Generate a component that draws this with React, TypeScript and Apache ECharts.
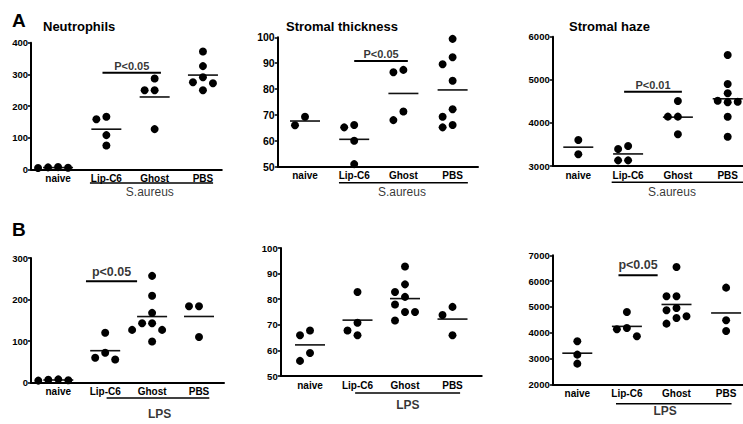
import React, { useEffect, useRef } from "react";
import * as echarts from "echarts";

const categories = ["naive", "Lip-C6", "Ghost", "PBS"];

// A: S. aureus
const neutrophilsSA = [
  [5, 7, 4, 6],
  [158, 166, 108, 75],
  [287, 250, 250, 127],
  [372, 326, 291, 275, 272, 250],
];
const thicknessSA = [
  [66, 69.3],
  [65.2, 66.1, 60, 51],
  [87.4, 86.5, 68, 71.3],
  [99.4, 92.3, 89.6, 83.2, 72.2, 69.3, 65.2, 66.1],
];
const hazeSA = [
  [3603, 3271],
  [3464, 3394, 3131, 3131],
  [4508, 4145, 4145, 3735],
  [5575, 4903, 4687, 4515, 4478, 4492, 4144, 3680],
];
// B: LPS
const neutrophilsLPS = [
  [6, 8, 7, 5],
  [120, 72, 56, 60],
  [257, 209, 168, 143, 143, 127, 127, 99],
  [184, 184, 110],
];
const thicknessLPS = [
  [67.8, 65.9, 59, 55.9],
  [82.8, 70.8, 67.8, 65.9],
  [92.8, 85.8, 82.8, 80.9, 77.9, 75, 75, 71.7],
  [77, 73.8, 65.9],
];
const hazeLPS = [
  [3667, 3150, 2801],
  [4804, 4183, 4132, 3860],
  [6548, 5411, 5411, 4959, 4868, 4636, 4571, 4351],
  [5747, 4480, 4067],
];

const neutrophilsSATicks = [0, 100, 200, 300, 400];
const thicknessSATicks = [50, 60, 70, 80, 90, 100];
const hazeSATicks = [3000, 4000, 5000, 6000];
const neutrophilsLPSTicks = [0, 100, 200, 300];
const thicknessLPSTicks = [50, 60, 70, 80, 90, 100];
const hazeLPSTicks = [2000, 3000, 4000, 5000, 6000, 7000];

const panelTitles = ["Neutrophils", "Stromal thickness", "Stromal haze", "", "", ""];
const groupLabels = ["S.aureus", "S.aureus", "S.aureus", "LPS", "LPS", "LPS"];
const sigLabels = ["P<0.05", "P<0.05", "P<0.01", "p<0.05", null, "p<0.05"];
const sigLevels = [305, 90.8, 4724, 244, null, 6225];

const panelValues = [neutrophilsSA, thicknessSA, hazeSA, neutrophilsLPS, thicknessLPS, hazeLPS];
const panelTicks = [
  neutrophilsSATicks,
  thicknessSATicks,
  hazeSATicks,
  neutrophilsLPSTicks,
  thicknessLPSTicks,
  hazeLPSTicks,
];

// layout only (pixels / category-unit spans)
const layouts = [
  { left: 31, top: 42.7, height: 126.6, xMin: -0.56, xMax: 3.39, step: 48.3, tickFont: 9.5, sigFont: 11, sigGap: 0.5, sigSpan: [0.92, 2.13], under: [0.66, 3.21, 13.7], groupAt: [1.9, 22.7], groupBold: false, titleAt: [43, 26] },
  { left: 277.7, top: 37.3, height: 129.4, xMin: -0.555, xMax: 3.516, step: 49.2, tickFont: 10.5, sigFont: 11, sigGap: 1.5, sigSpan: [1.0, 2.09], under: [0.69, 3.31, 16], groupAt: [1.97, 25], groupBold: false, titleAt: [286, 26.7] },
  { left: 552.7, top: 36.7, height: 129.3, xMin: -0.514, xMax: 3.5, step: 49.8, tickFont: 9.5, sigFont: 11, sigGap: 0.3, sigSpan: [0.92, 2.08], under: [0.67, 3.6, 16.3], groupAt: [1.88, 25.7], groupBold: false, titleAt: [569, 26.7] },
  { left: 31, top: 258, height: 124.7, xMin: -0.582, xMax: 3.533, step: 46.9, tickFont: 9.5, sigFont: 12.5, sigGap: 2, sigSpan: [0.59, 1.68], under: [1.03, 3.22, 15.3], groupAt: [2.16, 31], groupBold: true, titleAt: [0, 0] },
  { left: 280.7, top: 248, height: 128, xMin: -0.617, xMax: 3.615, step: 47.5, tickFont: 9.5, sigFont: 12.5, sigGap: 2, sigSpan: [0, 0], under: [0.95, 3.16, 17], groupAt: [2.06, 28.7], groupBold: true, titleAt: [0, 0] },
  { left: 552.7, top: 255.3, height: 129, xMin: -0.496, xMax: 3.5, step: 49.6, tickFont: 9.5, sigFont: 12.5, sigGap: 3, sigSpan: [0.83, 1.62], under: [0.78, 3.11, 19.4], groupAt: [1.77, 27], groupBold: true, titleAt: [0, 0] },
];

const INK = "#000";
const FONT = "Liberation Sans, Arial, Helvetica, sans-serif";
const DOT = 8;
const SWARM_STEP = 10;
const SWARM_THR = 8.8;
const MEAN_HALF = 15;

function swarm(vals: number[], yPx: number): number[] {
  const order = vals.map((_, i) => i).sort((a, b) => vals[b] - vals[a]);
  const placed: { dx: number; y: number }[] = [];
  const out: number[] = new Array(vals.length).fill(0);
  const ks = [0, -1, 1, -2, 2, -3, 3, -4, 4];
  for (const i of order) {
    const y = vals[i] * yPx;
    for (const k of ks) {
      const dx = k * SWARM_STEP;
      if (placed.every((p) => Math.hypot(p.dx - dx, p.y - y) >= SWARM_THR)) {
        placed.push({ dx, y });
        out[i] = dx;
        break;
      }
    }
  }
  return out;
}

function mean(a: number[]) {
  return a.reduce((s, v) => s + v, 0) / a.length;
}

function buildOption() {
  const grid: any[] = [];
  const xAxis: any[] = [];
  const yAxis: any[] = [];
  const series: any[] = [];

  layouts.forEach((l, i) => {
    const ticks = panelTicks[i];
    const yMin = ticks[0];
    const yMax = ticks[ticks.length - 1];
    const yPx = l.height / (yMax - yMin);
    grid.push({
      left: l.left,
      top: l.top,
      width: (l.xMax - l.xMin) * l.step,
      height: l.height,
      containLabel: false,
      outerBoundsMode: "none",
    });
    xAxis.push({
      gridIndex: i,
      type: "value",
      min: l.xMin,
      max: l.xMax,
      axisLine: { show: true, onZero: false, lineStyle: { color: INK, width: 2 } },
      axisTick: { show: false },
      splitLine: { show: false },
      axisLabel: {
        customValues: [0, 1, 2, 3],
        formatter: (v: number) => categories[Math.round(v)] ?? "",
        fontSize: 10,
        fontWeight: "bold",
        color: INK,
        margin: 4,
        fontFamily: FONT,
      },
    });
    yAxis.push({
      gridIndex: i,
      type: "value",
      min: yMin,
      max: yMax,
      interval: ticks[1] - ticks[0],
      axisLine: { show: true, onZero: false, lineStyle: { color: INK, width: 2 } },
      axisTick: { show: true, length: 3, lineStyle: { color: INK, width: 1.5 } },
      splitLine: { show: false },
      axisLabel: {
        margin: 3,
        fontSize: l.tickFont,
        fontWeight: "bold",
        color: INK,
        fontFamily: FONT,
        formatter: (v: number) => String(v),
      },
    });

    const groups = panelValues[i];
    const dots: number[][] = [];
    groups.forEach((vals, g) => {
      const offs = swarm(vals, yPx);
      vals.forEach((v, j) => dots.push([g + offs[j] / l.step, v]));
    });
    series.push({
      type: "scatter",
      xAxisIndex: i,
      yAxisIndex: i,
      symbol: "circle",
      symbolSize: DOT,
      itemStyle: { color: INK, opacity: 1 },
      data: dots,
      silent: true,
      z: 3,
    });
    series.push({
      type: "custom",
      xAxisIndex: i,
      yAxisIndex: i,
      silent: true,
      data: groups.map((vals, g) => [g, mean(vals), MEAN_HALF / l.step]),
      renderItem: (_p: any, api: any) => {
        const c = api.value(0);
        const m = api.value(1);
        const h = api.value(2);
        const p1 = api.coord([c - h, m]);
        const p2 = api.coord([c + h, m]);
        return {
          type: "line",
          shape: { x1: p1[0], y1: p1[1], x2: p2[0], y2: p2[1] },
          style: { stroke: "#111", lineWidth: 1.6 },
        };
      },
      z: 2,
    });

    const sigLevel = sigLevels[i];
    if (sigLevel != null) {
      const [a, b] = l.sigSpan;
      series.push({
        type: "line",
        xAxisIndex: i,
        yAxisIndex: i,
        data: [
          [a, sigLevel],
          [b, sigLevel],
        ],
        symbol: "none",
        silent: true,
        clip: false,
        lineStyle: { color: INK, width: 2, opacity: 1 },
      });
      series.push({
        type: "scatter",
        xAxisIndex: i,
        yAxisIndex: i,
        data: [[(a + b) / 2, sigLevel]],
        symbolSize: 1,
        silent: true,
        clip: false,
        itemStyle: { color: "rgba(0,0,0,0)" },
        label: {
          show: true,
          position: "top",
          distance: l.sigGap,
          formatter: sigLabels[i] as string,
          fontSize: l.sigFont,
          fontWeight: "bold",
          color: INK,
          fontFamily: FONT,
        },
      });
    }

    const [u0, u1, uOff] = l.under;
    const uY = yMin - uOff / yPx;
    series.push({
      type: "line",
      xAxisIndex: i,
      yAxisIndex: i,
      data: [
        [u0, uY],
        [u1, uY],
      ],
      symbol: "none",
      silent: true,
      clip: false,
      lineStyle: { color: INK, width: 1.5, opacity: 1 },
    });
    const [gx, gOff] = l.groupAt;
    series.push({
      type: "scatter",
      xAxisIndex: i,
      yAxisIndex: i,
      data: [[gx, yMin - gOff / yPx]],
      symbolSize: 1,
      silent: true,
      clip: false,
      itemStyle: { color: "rgba(0,0,0,0)" },
      label: {
        show: true,
        position: "inside",
        formatter: groupLabels[i],
        fontSize: 12,
        fontWeight: l.groupBold ? "bold" : "normal",
        color: INK,
        fontFamily: FONT,
      },
    });
  });

  const graphic: any[] = [
    { type: "text", x: 12, y: 20, style: { text: "A", font: `bold 19px ${FONT}`, fill: INK, textAlign: "left", textVerticalAlign: "middle" } },
    { type: "text", x: 12, y: 229, style: { text: "B", font: `bold 19px ${FONT}`, fill: INK, textAlign: "left", textVerticalAlign: "middle" } },
  ];
  layouts.forEach((l, i) => {
    if (!panelTitles[i]) return;
    graphic.push({
      type: "text",
      x: l.titleAt[0],
      y: l.titleAt[1],
      style: {
        text: panelTitles[i],
        font: `bold 13px ${FONT}`,
        fill: INK,
        textAlign: "left",
        textVerticalAlign: "middle",
      },
    });
  });

  return {
    animation: false,
    backgroundColor: "#fff",
    grid,
    xAxis,
    yAxis,
    series,
    graphic,
  };
}

export default function App() {
  const ref = useRef<HTMLDivElement>(null);
  useEffect(() => {
    if (!ref.current) return;
    const chart = echarts.init(ref.current, undefined, { renderer: "svg" });
    chart.setOption(buildOption() as any);
    return () => chart.dispose();
  }, []);
  return (
    <div
      ref={ref}
      style={{ position: "absolute", left: 0, top: 0, width: 743, height: 424 }}
    />
  );
}
